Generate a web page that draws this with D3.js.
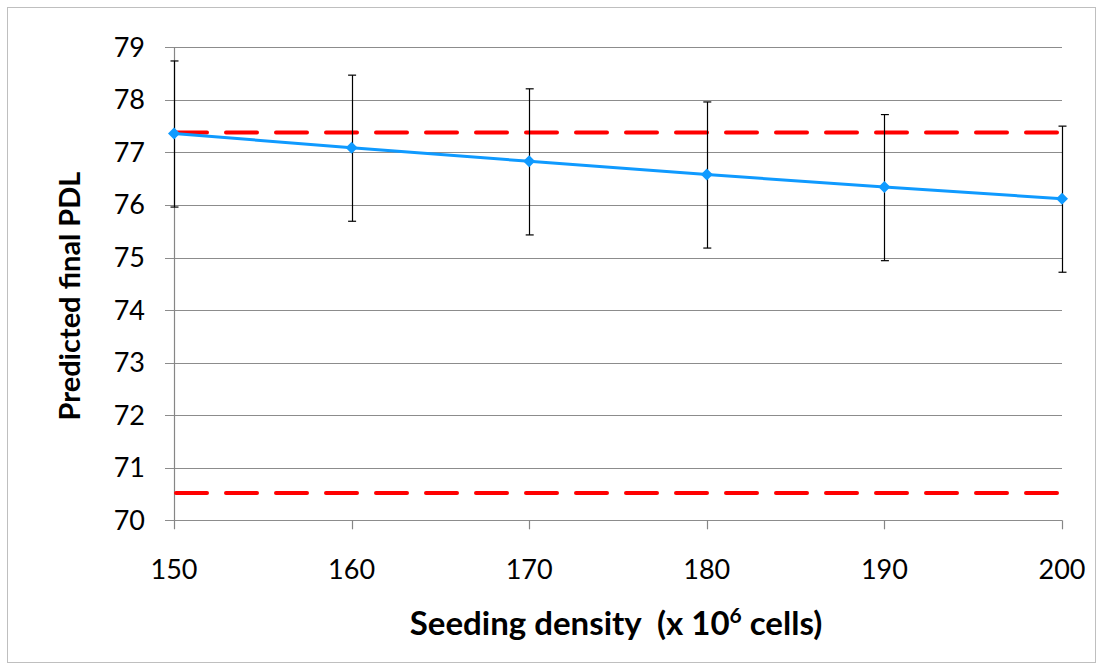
<!DOCTYPE html>
<html>
<head>
<meta charset="utf-8">
<script src="https://cdn.jsdelivr.net/npm/d3@7"></script>
<style>
  body { margin: 0; background: #fff; }
  text { font-family: Lato, "Open Sans", sans-serif; fill: #000; }
</style>
</head>
<body>
<svg id="chart" width="1103" height="670"></svg>
<script>
// data
const densities = [150, 160, 170, 180, 190, 200];
const predictedPDL = [77.36, 77.09, 76.83, 76.58, 76.34, 76.12];
const errPlus = [1.38, 1.38, 1.38, 1.38, 1.38, 1.38];
const errMinus = [1.40, 1.40, 1.40, 1.40, 1.40, 1.40];
const limits = [77.38, 70.52];
const yTicks = [70, 71, 72, 73, 74, 75, 76, 77, 78, 79];

const svg = d3.select('#chart');
const margin = { left: 174, right: 1062, top: 47.3, bottom: 520.3 };

const x = d3.scaleLinear().domain([150, 200]).range([margin.left, margin.right]);
const y = d3.scaleLinear().domain([70, 79]).range([margin.bottom, margin.top]);

// outer border
svg.append('rect')
  .attr('x', 7.5).attr('y', 7.5)
  .attr('width', 1088).attr('height', 655)
  .attr('fill', 'none')
  .attr('stroke', '#bfbfbf')
  .attr('stroke-width', 1);

// horizontal gridlines
svg.append('g')
  .selectAll('line')
  .data(yTicks)
  .enter()
  .append('line')
  .attr('x1', x(150) - 9)
  .attr('x2', x(200))
  .attr('y1', d => Math.round(y(d)) + 0.5)
  .attr('y2', d => Math.round(y(d)) + 0.5)
  .attr('stroke', '#8c8c8c')
  .attr('stroke-width', 1.2);

// y axis line
svg.append('line')
  .attr('x1', x(150) + 0.5).attr('x2', x(150) + 0.5)
  .attr('y1', y(79)).attr('y2', y(70) + 9)
  .attr('stroke', '#868686').attr('stroke-width', 1.2);

// x ticks
svg.append('g')
  .selectAll('line')
  .data(densities.slice(1))
  .enter()
  .append('line')
  .attr('x1', d => Math.round(x(d)) + 0.5)
  .attr('x2', d => Math.round(x(d)) + 0.5)
  .attr('y1', y(70))
  .attr('y2', y(70) + 9)
  .attr('stroke', '#868686').attr('stroke-width', 1.2);

// y tick labels
svg.append('g')
  .selectAll('text')
  .data(yTicks)
  .enter()
  .append('text')
  .attr('x', 145)
  .attr('y', d => y(d) + 9.5)
  .attr('text-anchor', 'end')
  .style('font-size', '27px')
  .text(d => d);

// x tick labels
svg.append('g')
  .selectAll('text')
  .data(densities)
  .enter()
  .append('text')
  .attr('x', d => x(d))
  .attr('y', 578.5)
  .attr('text-anchor', 'middle')
  .style('font-size', '27px')
  .text(d => d);

// limit lines
svg.append('g')
  .selectAll('line')
  .data(limits)
  .enter()
  .append('line')
  .attr('x1', x(150) + 2)
  .attr('x2', x(200) - 2)
  .attr('y1', d => y(d))
  .attr('y2', d => y(d))
  .attr('stroke', '#ff0000')
  .attr('stroke-width', 4)
  .attr('stroke-linecap', 'round')
  .attr('stroke-dasharray', '31 19');

// error bars
const pts = densities.map((d, i) => ({
  x: d, y: predictedPDL[i], hi: predictedPDL[i] + errPlus[i], lo: predictedPDL[i] - errMinus[i],
}));
const eb = svg.append('g').attr('stroke', '#000').attr('stroke-width', 1.2);
eb.selectAll('.stem').data(pts).enter().append('line')
  .attr('x1', d => Math.round(x(d.x)) + 0.5).attr('x2', d => Math.round(x(d.x)) + 0.5)
  .attr('y1', d => y(d.hi)).attr('y2', d => y(d.lo));
eb.selectAll('.capHi').data(pts).enter().append('line')
  .attr('x1', d => x(d.x) - 3.5).attr('x2', d => x(d.x) + 4.5)
  .attr('y1', d => y(d.hi)).attr('y2', d => y(d.hi));
eb.selectAll('.capLo').data(pts).enter().append('line')
  .attr('x1', d => x(d.x) - 3.5).attr('x2', d => x(d.x) + 4.5)
  .attr('y1', d => y(d.lo)).attr('y2', d => y(d.lo));

// series line
svg.append('path')
  .datum(pts)
  .attr('fill', 'none')
  .attr('stroke', '#0f9aff')
  .attr('stroke-width', 3)
  .attr('d', d3.line().x(d => x(d.x)).y(d => y(d.y)));

svg.append('g')
  .selectAll('path')
  .data(pts)
  .enter()
  .append('path')
  .attr('transform', d => `translate(${x(d.x)},${y(d.y)})`)
  .attr('d', 'M0,-6L6,0L0,6L-6,0Z')
  .attr('fill', '#0f9aff');

// axis titles
svg.append('text')
  .attr('x', 616)
  .attr('y', 635)
  .attr('text-anchor', 'middle')
  .style('font-size', '33px')
  .style('font-weight', 'bold')
  .html('Seeding density\u00a0\u00a0(x 10<tspan dy="-12" style="font-size:21px">6</tspan><tspan dy="12"> cells)</tspan>');

svg.append('text')
  .attr('transform', 'translate(80,296) rotate(-90)')
  .attr('text-anchor', 'middle')
  .style('font-size', '29px')
  .style('font-weight', 'bold')
  .text('Predicted final PDL');
</script>
</body>
</html>
